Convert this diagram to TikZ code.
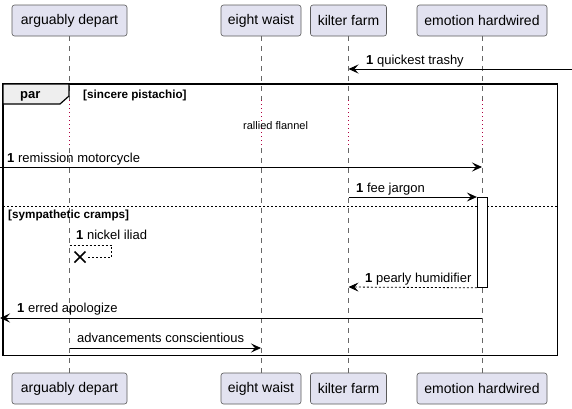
\documentclass[tikz,border=0pt]{standalone}
\usepackage{fontspec}
\setmainfont{Liberation Sans}
\usetikzlibrary{arrows.meta,calc}
\definecolor{partfill}{HTML}{E2E2F0}
\definecolor{partline}{HTML}{5A5A5A}
\definecolor{delayred}{HTML}{B00040}
\definecolor{tabfill}{HTML}{EEEEEE}
\tikzset{
  partbox/.style={draw=partline, fill=partfill, rounded corners=2.5pt, line width=0.6pt,
    minimum height=31pt, inner sep=0pt, font=\fontsize{14}{16}\selectfont},
  lifeline/.style={draw=black!60, line width=0.7pt, dash pattern=on 5pt off 5pt},
  delayline/.style={draw=delayred, line width=0.9pt, dash pattern=on 1pt off 3pt},
  msg/.style={draw=black, line width=0.8pt, -{Stealth[length=10pt,width=9pt,inset=4pt]}},
  dmsg/.style={msg, dash pattern=on 2pt off 2pt},
  msglabel/.style={anchor=base west, inner sep=0pt, font=\fontsize{13}{15}\selectfont},
  guardlabel/.style={anchor=base west, inner sep=0pt, font=\fontsize{11.7}{13}\selectfont\bfseries},
  framebox/.style={draw=black, line width=1.5pt},
  actbox/.style={draw=black, fill=white, line width=0.8pt, minimum width=10.5pt, minimum height=90pt, inner sep=0pt, anchor=north}
}
\begin{document}
\begin{tikzpicture}[x=1pt,y=-1pt]
\useasboundingbox (0,0) rectangle (572,408);

% participants
\node[partbox, minimum width=115pt] (adt) at (69.5,20.5) {arguably depart};
\node[partbox, minimum width=80pt] (ewt) at (261,20.5) {eight waist};
\node[partbox, minimum width=76pt] (kft) at (348.5,20.5) {kilter farm};
\node[partbox, minimum width=130pt] (eht) at (482,20.5) {emotion hardwired};
\node[partbox, minimum width=115pt] (adb) at (69.5,388.5) {arguably depart};
\node[partbox, minimum width=80pt] (ewb) at (261,388.5) {eight waist};
\node[partbox, minimum width=76pt] (kfb) at (348.5,388.5) {kilter farm};
\node[partbox, minimum width=130pt] (ehb) at (482,388.5) {emotion hardwired};

% lifelines with delay
\foreach \p/\x in {ad/69.5,ew/261,kf/348.5,eh/482}{
  \coordinate (\p d1) at (\x,100);
  \coordinate (\p d2) at (\x,148);
  \draw[lifeline] (\p t.south) -- (\p d1);
  \draw[delayline] (\p d1) -- (\p d2);
  \draw[lifeline] (\p d2) -- (\p b.north);
}

% par frame
\draw[framebox] (3,84) rectangle (557.5,355.5);
\draw[line width=1.2pt, fill=tabfill] (3,84) -- (69,84) -- (69,96) -- (60,104) -- (3,104) -- cycle;
\node[anchor=base west, inner sep=0pt, font=\fontsize{13}{15}\selectfont\bfseries] (partag) at (20,98.5) {par};
\node[guardlabel] (g1) at (83,98) {[sincere pistachio]};
\draw[draw=black, line width=0.8pt, dash pattern=on 2pt off 2pt] (3,206) -- (557.5,206);
\node[guardlabel] (g2) at (8,218) {[sympathetic cramps]};

% delay text
\node[anchor=base west, inner sep=0pt, font=\fontsize{11}{13}\selectfont] (delay) at (243,129) {rallied flannel};

% activation
\node[actbox] (act) at (482.5,197) {};

% messages
\coordinate (m1s) at (572,69);
\coordinate (m1e) at (348.5,69);
\draw[msg] (m1s) -- (m1e);
\node[msglabel] (l1) at (366,64.5) {\textbf{1} quickest trashy};

\coordinate (m2s) at (0,167);
\coordinate (m2e) at (482,167);
\draw[msg] (m2s) -- (m2e);
\node[msglabel] (l2) at (7,162.5) {\textbf{1} remission motorcycle};

\coordinate (m3s) at (348.5,197);
\draw[msg] (m3s) -- (act.north west);
\node[msglabel] (l3) at (356,192.5) {\textbf{1} fee jargon};

\coordinate (m4s) at (69.5,245);
\coordinate (m4a) at (111.7,245);
\coordinate (m4b) at (111.7,257);
\coordinate (m4x) at (80,257);
\draw[draw=black, line width=0.7pt, dash pattern=on 2pt off 2pt] (m4s) -- (m4a) -- (m4b) -- (86,257);
\draw[line width=1.5pt] ($(m4x)+(-5.5,-5.5)$) -- ($(m4x)+(5.5,5.5)$) ($(m4x)+(-5.5,5.5)$) -- ($(m4x)+(5.5,-5.5)$);
\node[msglabel] (l4) at (76,239.5) {\textbf{1} nickel iliad};

\coordinate (m5e) at (348.5,287);
\draw[dmsg] (act.south west) -- (m5e);
\node[msglabel] (l5) at (365,282.5) {\textbf{1} pearly humidifier};

\coordinate (m6s) at (482,318);
\coordinate (m6e) at (0,318);
\draw[msg] (m6s) -- (m6e);
\node[msglabel] (l6) at (17,312.5) {\textbf{1} erred apologize};

\coordinate (m7s) at (69.5,348);
\coordinate (m7e) at (261,348);
\draw[msg] (m7s) -- (m7e);
\node[msglabel] (l7) at (77,342.5) {advancements conscientious};
\end{tikzpicture}
\end{document}
